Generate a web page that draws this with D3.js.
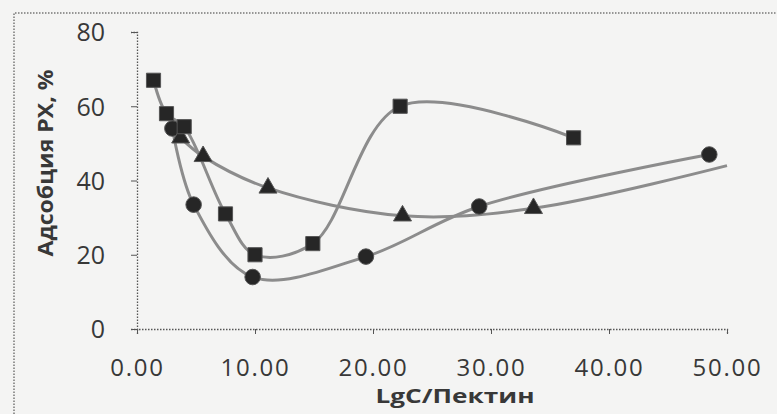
<!DOCTYPE html>
<html>
<head>
<meta charset="utf-8">
<script src="https://cdn.jsdelivr.net/npm/d3@7"></script>
<style>
  body { margin: 0; background: #f4f4f3; }
  svg { display: block; }
</style>
</head>
<body>
<svg id="chart"></svg>
<script>
// values
const squareX = [1.4, 2.5, 4.0, 7.5, 10.0, 14.9, 22.3, 37.0];
const squareY = [67, 58, 54.5, 31, 20, 23, 60, 51.5];
const circleX = [3.0, 4.8, 9.8, 19.4, 29.0, 48.5];
const circleY = [54, 33.5, 14, 19.5, 33, 47];
const triangleX = [3.7, 5.6, 11.1, 22.5, 33.6, 50.0];
const triangleY = [51.5, 46.5, 38, 30.5, 32.5, 44];
const triangleMarked = [true, true, true, true, true, false];

const xTicks = [0, 10, 20, 30, 40, 50];
const yTicks = [0, 20, 40, 60, 80];

const width = 777, height = 414;
const svg = d3.select("#chart").attr("width", width).attr("height", height);

const x = d3.scaleLinear().domain([0, 50]).range([137, 727]);
const y = d3.scaleLinear().domain([0, 80]).range([329, 32]);

const lineColor = "#8c8c8c", markColor = "#262626", textColor = "#383838";
const font = "'Open Sans', sans-serif";

// scanned frame
svg.append("path")
  .attr("d", "M14,414 V13 H777")
  .attr("fill", "none")
  .attr("stroke", "#777")
  .attr("stroke-width", 1.5)
  .attr("stroke-dasharray", "1.5,1.5");

// axes
const xAxis = d3.axisBottom(x).tickValues(xTicks).tickSize(5).tickFormat(d3.format(".2f"));
const yAxis = d3.axisLeft(y).tickValues(yTicks).tickSize(6).tickFormat(d3.format("d"));

const gx = svg.append("g").attr("transform", "translate(0," + y(0) + ")").call(xAxis);
const gy = svg.append("g").attr("transform", "translate(" + x(0) + ",0)").call(yAxis);

[gx, gy].forEach(g => {
  g.select(".domain").attr("stroke", "#555").attr("stroke-width", 1.3).attr("stroke-dasharray", "1.5,1.5");
  g.selectAll(".tick line").attr("stroke", "#555").attr("stroke-width", 1);
  g.selectAll(".tick text")
    .attr("fill", textColor)
    .style("font-family", font)
    .style("font-size", "24px");
});
gx.selectAll(".tick text").attr("y", 47).attr("dy", 0).style("letter-spacing", "1.8px");
gy.selectAll(".tick text").attr("x", -32).attr("dy", "0.35em").style("font-size", "25px");

// titles
svg.append("text")
  .attr("x", 455).attr("y", 403)
  .attr("text-anchor", "middle")
  .attr("fill", textColor)
  .attr("textLength", 159)
  .attr("lengthAdjust", "spacingAndGlyphs")
  .style("font-family", font)
  .style("font-size", "19px")
  .style("font-weight", "bold")
  .text("LgC/Пектин");

svg.append("text")
  .attr("transform", "translate(53,163) rotate(-90)")
  .attr("text-anchor", "middle")
  .attr("fill", textColor)
  .attr("textLength", 187)
  .attr("lengthAdjust", "spacingAndGlyphs")
  .style("font-family", font)
  .style("font-size", "22px")
  .style("font-weight", "bold")
  .text("Адсобция РХ, %");

// series
const series = [
  { xs: circleX, ys: circleY, mark: d3.symbolCircle, size: 190 },
  { xs: triangleX, ys: triangleY, mark: d3.symbolTriangle, size: 140, marked: triangleMarked },
  { xs: squareX, ys: squareY, mark: d3.symbolSquare, size: 200 }
];

const line = d3.line()
  .x(d => x(d[0]))
  .y(d => y(d[1]))
  .curve(d3.curveCatmullRom.alpha(0.5));

series.forEach(s => {
  const pts = s.xs.map((v, i) => [v, s.ys[i], s.marked ? s.marked[i] : true]);
  svg.append("path")
    .datum(pts)
    .attr("d", line)
    .attr("fill", "none")
    .attr("stroke", lineColor)
    .attr("stroke-width", 3);
});

series.forEach(s => {
  const pts = s.xs.map((v, i) => [v, s.ys[i], s.marked ? s.marked[i] : true]).filter(d => d[2]);
  svg.append("g").selectAll("path")
    .data(pts)
    .enter().append("path")
    .attr("d", d3.symbol().type(s.mark).size(s.size))
    .attr("transform", d => "translate(" + x(d[0]) + "," + y(d[1]) + ")")
    .attr("fill", markColor)
    .attr("stroke", "#555")
    .attr("stroke-width", 1);
});
</script>
</body>
</html>
